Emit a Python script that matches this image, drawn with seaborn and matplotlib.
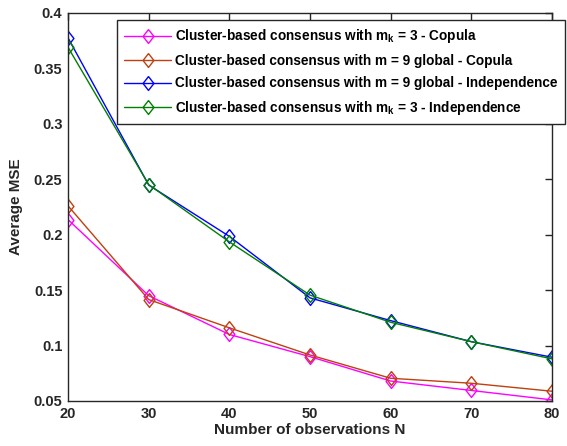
import pandas as pd
import seaborn as sns
import matplotlib.pyplot as plt
from matplotlib.lines import Line2D
from matplotlib.ticker import FuncFormatter

# data
n_obs = [20, 30, 40, 50, 60, 70, 80]
mse_mk3_copula = [0.2136, 0.145, 0.110, 0.090, 0.068, 0.0595, 0.051]
mse_m9_copula = [0.226, 0.1415, 0.116, 0.0915, 0.0705, 0.066, 0.0588]
mse_m9_indep = [0.3775, 0.2448, 0.1985, 0.143, 0.1225, 0.1035, 0.0895]
mse_mk3_indep = [0.369, 0.2452, 0.1935, 0.1455, 0.121, 0.1035, 0.088]

labels = [
    r"Cluster-based consensus with m$_\mathbf{k}$ = 3 - Copula",
    "Cluster-based consensus with m = 9 global - Copula",
    "Cluster-based consensus with m = 9 global - Independence",
    r"Cluster-based consensus with m$_\mathbf{k}$ = 3 - Independence",
]
colors = ["#FF00FF", "#BF4010", "#0000FF", "#008000"]
series = [mse_mk3_copula, mse_m9_copula, mse_m9_indep, mse_mk3_indep]

sns.set_style("white")
plt.rcParams["font.family"] = ["Liberation Sans", "DejaVu Sans"]
plt.rcParams["font.weight"] = "bold"
plt.rcParams["mathtext.fontset"] = "custom"
plt.rcParams["mathtext.rm"] = "Liberation Sans:bold"
plt.rcParams["mathtext.bf"] = "Liberation Sans:bold"
plt.rcParams["mathtext.it"] = "Liberation Sans:bold"

text_color = "#262626"
# matlab-like diamond, a bit taller than wide
diamond = [(0, 1), (0.78, 0), (0, -1), (-0.78, 0), (0, 1)]
mk = dict(marker=diamond, markersize=10, markerfacecolor="none",
          markeredgewidth=1.0, linewidth=1.0)

fig = plt.figure(figsize=(5.67, 4.46), dpi=100)
ax = fig.add_axes([0.12, 0.1009, 0.8536, 0.870])

handles = []
for vals, lab, col in zip(series, labels, colors):
    df = pd.DataFrame({"N": n_obs, "MSE": vals})
    sns.lineplot(data=df, x="N", y="MSE", ax=ax, color=col,
                 markeredgecolor=col, **mk)
    handles.append(Line2D([], [], color=col, markeredgecolor=col, label=lab, **mk))

ax.set_xlim(20, 80)
ax.set_ylim(0.05, 0.4)
ax.set_xticks(n_obs)
ax.set_yticks([0.05, 0.1, 0.15, 0.2, 0.25, 0.3, 0.35, 0.4])
ax.yaxis.set_major_formatter(FuncFormatter(lambda v, p: f"{v:g}"))

ax.tick_params(direction="in", top=True, right=True, length=5, width=1,
               colors=text_color, labelsize=10.5, pad=4)
for lab in ax.get_xticklabels() + ax.get_yticklabels():
    lab.set_fontweight("bold")
for sp in ax.spines.values():
    sp.set_color(text_color)
    sp.set_linewidth(1.0)

ax.set_xlabel("Number of observations N", fontsize=11, fontweight="bold",
              color=text_color, labelpad=2)
ax.set_ylabel("Average MSE", fontsize=11, fontweight="bold",
              color=text_color, labelpad=8)

leg = ax.legend(handles=handles, loc="upper left", bbox_to_anchor=(0.101, 0.982),
                borderaxespad=0, fontsize=9.8, handlelength=3.4, handletextpad=0.3,
                labelspacing=0.62, fancybox=False, framealpha=1, edgecolor=text_color,
                borderpad=0.55)
leg.get_frame().set_linewidth(1.0)
for t in leg.get_texts():
    t.set_fontweight("bold")
    t.set_color("black")

fig.savefig("out.png", dpi=100)
